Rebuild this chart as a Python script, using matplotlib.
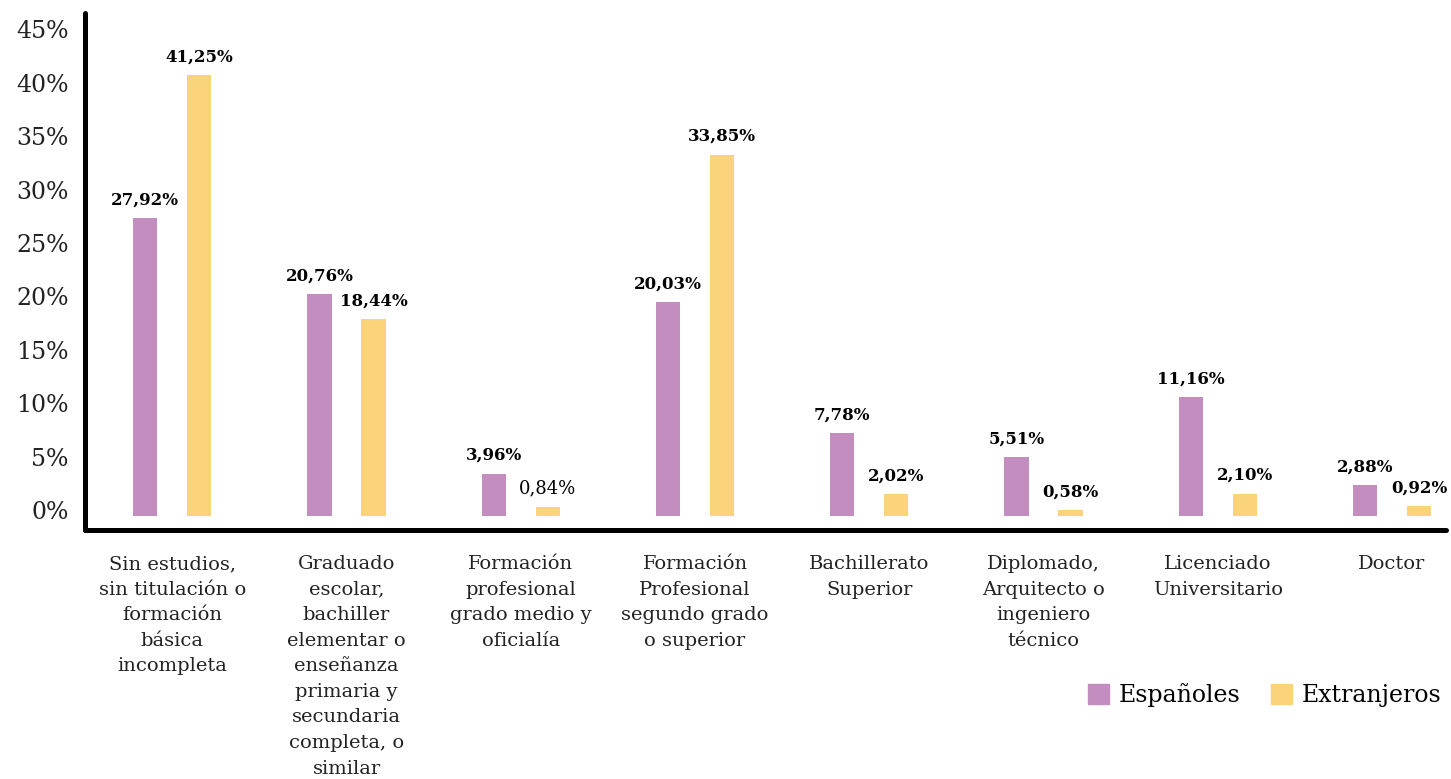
import numpy as np
import matplotlib
matplotlib.use("Agg")
import matplotlib.pyplot as plt
from matplotlib.patches import Patch
from matplotlib.transforms import ScaledTranslation

categorias = [
    "Sin estudios,\nsin titulación o\nformación\nbásica\nincompleta",
    "Graduado\nescolar,\nbachiller\nelementar o\nenseñanza\nprimaria y\nsecundaria\ncompleta, o\nsimilar",
    "Formación\nprofesional\ngrado medio y\noficialía",
    "Formación\nProfesional\nsegundo grado\no superior",
    "Bachillerato\nSuperior",
    "Diplomado,\nArquitecto o\ningeniero\ntécnico",
    "Licenciado\nUniversitario",
    "Doctor",
]
espanoles = [27.92, 20.76, 3.96, 20.03, 7.78, 5.51, 11.16, 2.88]
extranjeros = [41.25, 18.44, 0.84, 33.85, 2.02, 0.58, 2.10, 0.92]
yticks = [0, 5, 10, 15, 20, 25, 30, 35, 40, 45]

COL_ES = "#C48DBF"
COL_EX = "#FAD37B"

plt.rcParams["font.family"] = "DejaVu Serif"

fig = plt.figure(figsize=(14.51, 7.79), dpi=100)
ax = fig.add_axes([0.0589, 0.3196, 0.9377, 0.6637])

x = np.arange(len(categorias))
off, w = 0.155, 0.14
b1 = ax.bar(x - off, espanoles, w, color=COL_ES)
b2 = ax.bar(x + off, extranjeros, w, color=COL_EX)


def etiqueta(v):
    return f"{v:.2f}".replace(".", ",") + "%"


for bars, vals in ((b1, espanoles), (b2, extranjeros)):
    for rect, v in zip(bars, vals):
        normal = v == 0.84
        ax.annotate(etiqueta(v), (rect.get_x() + rect.get_width() / 2, v),
                    xytext=(0, 7), textcoords="offset points",
                    ha="center", va="bottom",
                    fontsize=13 if normal else 12,
                    fontweight="normal" if normal else "bold")

ax.set_xlim(-0.498, 7.31)
ax.set_ylim(-1.31, 47.1)
ax.set_yticks(yticks)
ax.set_yticklabels([f"{t}%" for t in yticks], fontsize=17, color="#222222")
ax.set_xticks(x)
ax.set_xticklabels(categorias, fontsize=14, linespacing=1.54, color="#222222")
ax.tick_params(axis="both", length=0)
ax.tick_params(axis="y", pad=12)
ax.tick_params(axis="x", pad=18)
for lab in ax.get_yticklabels():
    lab.set_transform(lab.get_transform() + ScaledTranslation(0, 6 / 100, fig.dpi_scale_trans))

for s in ("top", "right"):
    ax.spines[s].set_visible(False)
for s in ("left", "bottom"):
    ax.spines[s].set_linewidth(3.6)
    ax.spines[s].set_capstyle("round")

handles = [Patch(color=COL_ES, label="Españoles"), Patch(color=COL_EX, label="Extranjeros")]
fig.legend(handles=handles, loc="center right", bbox_to_anchor=(1.008, 0.108),
           ncol=2, frameon=False, fontsize=17, handlelength=0.9, handleheight=0.9,
           handletextpad=0.4, columnspacing=1.3)

fig.savefig("out.png", dpi=100)
